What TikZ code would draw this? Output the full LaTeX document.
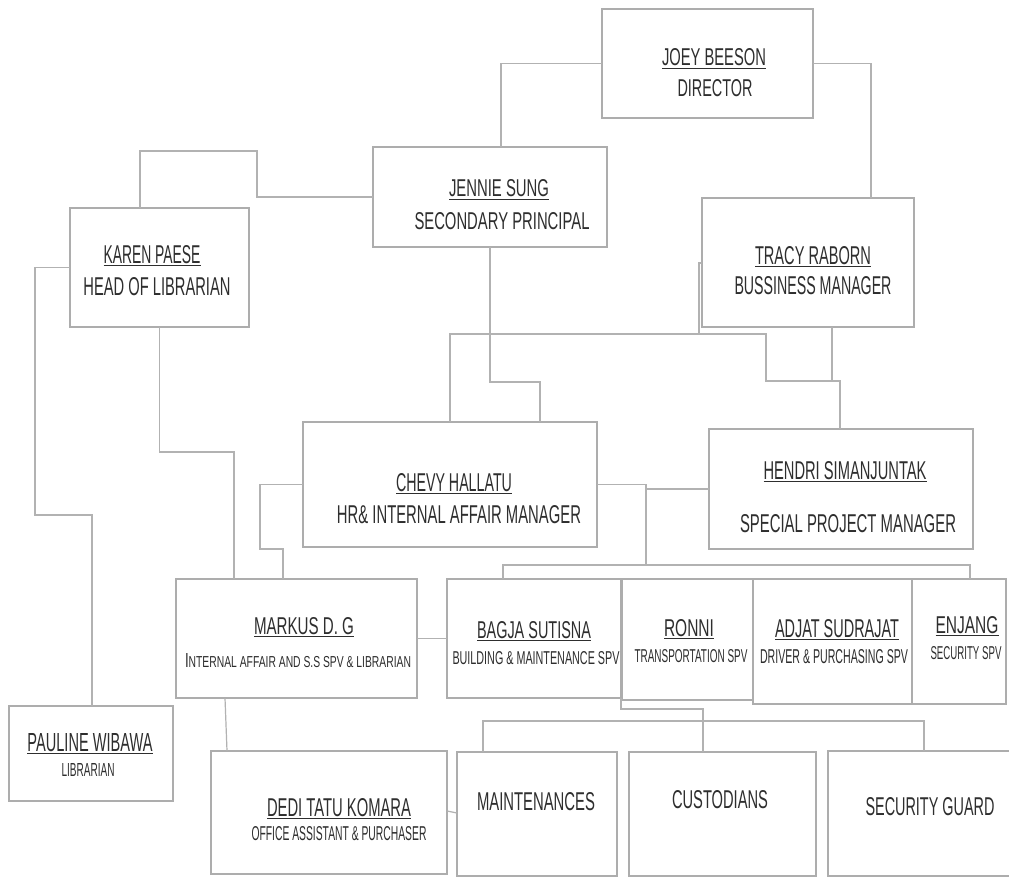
\documentclass[tikz,border=0pt]{standalone}
\usepackage{fontspec}
\setmainfont{Liberation Sans}
\usepackage{graphicx}
\newlength\PX
\setlength\PX{0.75pt}
\newsavebox\ubox
\newcommand\tx[3]{\resizebox{#1\PX}{#2\PX}{#3}}
\newcommand\un[3]{\sbox\ubox{\resizebox{#1\PX}{#2\PX}{#3}}\rlap{\rule[-2.6pt]{\wd\ubox}{0.9pt}}\usebox\ubox}
\newcommand\bx[5]{\node[box, minimum width={(#4-#2)*0.75pt}, minimum height={(#5-#3)*0.75pt}] (#1) at ({(#2+#4)/2},{(#3+#5)/2}) {};}
\begin{document}
\begin{tikzpicture}[x=0.75pt,y=-0.75pt,
  box/.style={draw=black!32, line width=0.9pt, inner sep=0pt, outer sep=0pt, rectangle},
  ln/.style={draw=black!30, line width=0.9pt},
  txt/.style={inner sep=0pt, outer sep=0pt, anchor=base, text=black!82}]
\fill[white] (0,0) rectangle (1009,877);
\useasboundingbox (0,0) rectangle (1009,877);
% boxes
\bx{joey}{602}{9}{813}{118}
\bx{jennie}{373}{147}{607}{247}
\bx{karen}{70}{208}{249}{327}
\bx{tracy}{702}{198}{914}{327}
\bx{chevy}{303}{422}{597}{547}
\bx{hendri}{709}{429}{973}{549}
\bx{markus}{176}{579}{417}{698}
\bx{bagja}{447}{579}{621}{698}
\bx{ronni}{622}{579}{753}{700}
\bx{adjat}{753}{579}{912}{704}
\bx{enjang}{912}{579}{1006}{704}
\bx{pauline}{9}{706}{173}{801}
\bx{dedi}{211}{751}{447}{874}
\bx{maint}{457}{752}{617}{876}
\bx{cust}{629}{752}{816}{876}
\bx{sg}{828}{751}{1012}{876}
% texts
\node[txt] (t1a) at (714,66) {\un{104}{17}{JOEY BEESON}};
\node[txt] (t1b) at (715,97) {\tx{75}{17}{DIRECTOR}};
\node[txt] (t2a) at (499,197) {\un{100}{17}{JENNIE SUNG}};
\node[txt] (t2b) at (502,229) {\tx{175}{17}{SECONDARY PRINCIPAL}};
\node[txt] (t3a) at (152,263) {\un{97}{18}{KAREN PAESE}};
\node[txt] (t3b) at (157,295) {\tx{147}{18}{HEAD OF LIBRARIAN}};
\node[txt] (t4a) at (813,264) {\un{116}{18}{TRACY RABORN}};
\node[txt] (t4b) at (813,294) {\tx{157}{18}{BUSSINESS MANAGER}};
\node[txt] (t5a) at (454,491) {\un{116}{18}{CHEVY HALLATU}};
\node[txt] (t5b) at (459,523) {\tx{244}{18}{HR\& INTERNAL AFFAIR MANAGER}};
\node[txt] (t6a) at (845,479) {\un{163}{18}{HENDRI SIMANJUNTAK}};
\node[txt] (t6b) at (848,532) {\tx{216}{18}{SPECIAL PROJECT MANAGER}};
\node[txt] (t7a) at (304,634) {\un{100}{17}{MARKUS D. G}};
\node[txt] (t7b) at (298,667) {\tx{226}{14}{I\scalebox{0.78}{NTERNAL AFFAIR AND S.S SPV \& LIBRARIAN}}};
\node[txt] (t8a) at (534,638) {\un{114}{17}{BAGJA SUTISNA}};
\node[txt] (t8b) at (536,664) {\tx{167}{13}{BUILDING \& MAINTENANCE SPV}};
\node[txt] (t9a) at (689,636) {\un{50}{17}{RONNI}};
\node[txt] (t9b) at (691,662) {\tx{113}{13}{TRANSPORTATION SPV}};
\node[txt] (t10a) at (837,637) {\un{124}{18}{ADJAT SUDRAJAT}};
\node[txt] (t10b) at (834,663) {\tx{148}{14}{DRIVER \& PURCHASING SPV}};
\node[txt] (t11a) at (967,633) {\un{63}{17}{ENJANG}};
\node[txt] (t11b) at (966,659) {\tx{71}{13}{SECURITY SPV}};
\node[txt] (t12a) at (90,751) {\un{125}{18}{PAULINE WIBAWA}};
\node[txt] (t12b) at (88,776) {\tx{53}{13}{LIBRARIAN}};
\node[txt] (t13a) at (339,816) {\un{144}{18}{DEDI TATU KOMARA}};
\node[txt] (t13b) at (339,840) {\tx{175}{14}{OFFICE ASSISTANT \& PURCHASER}};
\node[txt] (t14) at (536,810) {\tx{118}{18}{MAINTENANCES}};
\node[txt] (t15) at (720,808) {\tx{96}{18}{CUSTODIANS}};
\node[txt] (t16) at (930,815) {\tx{129}{18}{SECURITY GUARD}};
% connectors
\draw[ln] (joey.west) -| (jennie.north -| 501,0);
\draw[ln] (joey.east) -| (tracy.north -| 871,0);
\draw[ln] (jennie.west) -- (257,197) |- (140,151) -- (karen.north -| 140,0);
\draw[ln] (karen.west) -| (35,515) -| (pauline.north -| 92,0);
\draw[ln] (karen.south) |- (234,452) -- (markus.north -| 234,0);
\draw[ln] (jennie.south) |- (540,382) -- (chevy.north -| 540,0);
\draw[ln] (tracy.west |- 0,263) -- (699,263) -- (699,334);
\draw[ln] (chevy.north -| 450,0) |- (766,334) |- (840,381) -- (hendri.north -| 840,0);
\draw[ln] (tracy.south -| 832,0) -- (832,381);
\draw[ln] (chevy.west) -| (260,549) -| (markus.north -| 283,0);
\draw[ln] (chevy.east) -- (646,484.5) -- (646,565);
\draw[ln] (646,489) -- (hendri.west);
\draw[ln] (bagja.north -| 503,0) |- (970,565) -- (enjang.north -| 970,0);
\draw[ln] (markus.east) -- (bagja.west);
\draw[ln] (markus.south -| 225,0) -- (dedi.north -| 227,0);
\draw[ln] (bagja.south east) |- (703,709) -- (cust.north -| 703,0);
\draw[ln] (maint.north -| 483,0) |- (924,721) -- (sg.north -| 924,0);
\draw[ln] (dedi.east |- 0,811) -- (maint.west |- 0,813);
\end{tikzpicture}
\end{document}
